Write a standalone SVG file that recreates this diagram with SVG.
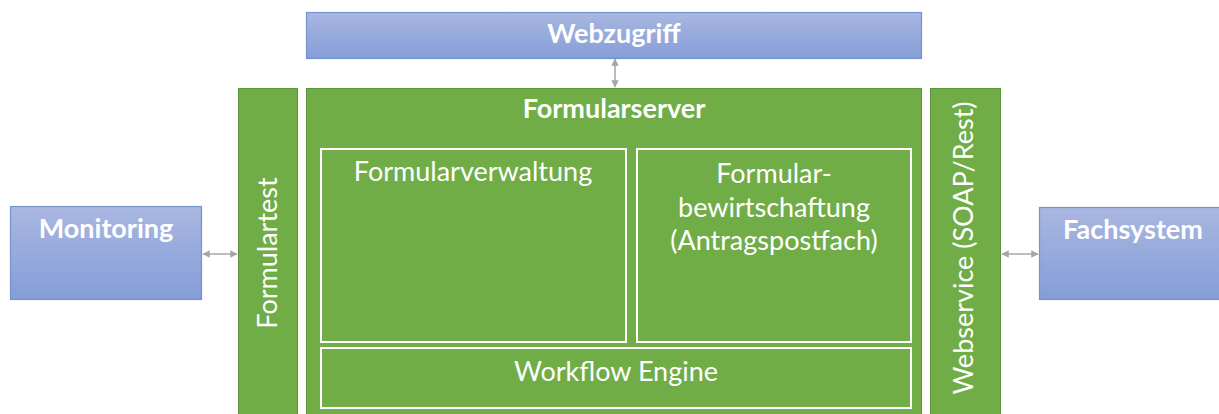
<svg xmlns="http://www.w3.org/2000/svg" width="1219" height="414" viewBox="0 0 1219 414">
  <defs>
    <linearGradient id="blueFill" x1="0" y1="0" x2="0" y2="1">
      <stop offset="0" stop-color="#a9b7e1"/>
      <stop offset="1" stop-color="#859dd7"/>
    </linearGradient>
    <marker id="head" viewBox="0 0 10 10" refX="9" refY="5" markerWidth="5" markerHeight="5" orient="auto-start-reverse">
      <path d="M0,0 L10,5 L0,10 z" fill="#a6a6a6"/>
    </marker>
    <style>
      .ext { fill: url(#blueFill); stroke: #7393d3; stroke-width: 1.2; }
      .green { fill: #70ad47; stroke: #5e9438; stroke-width: 1; }
      .inner { fill: none; stroke: #ffffff; stroke-width: 2; }
      .lbl { font-family: Lato, "Open Sans", sans-serif; fill: #ffffff; text-anchor: middle; }
      .bold { font-weight: bold; font-size: 27px; }
      .reg { font-size: 27px; }
      .conn { stroke: #a6a6a6; stroke-width: 1.5; fill: none; marker-start: url(#head); marker-end: url(#head); }
    </style>
  </defs>

  <rect width="1219" height="414" fill="#ffffff"/>

  <g id="connectors">
    <line class="conn" x1="615" y1="59" x2="615" y2="87"/>
    <line class="conn" x1="203" y1="254" x2="237" y2="254"/>
    <line class="conn" x1="1002" y1="254" x2="1038" y2="254"/>
  </g>

  <g id="webzugriff">
    <rect class="ext" x="306.5" y="12.5" width="615" height="46"/>
    <text class="lbl bold" x="614" y="43">Webzugriff</text>
  </g>

  <g id="monitoring">
    <rect class="ext" x="10.5" y="206.5" width="191" height="93"/>
    <text class="lbl bold" x="106" y="238">Monitoring</text>
  </g>

  <g id="fachsystem">
    <rect class="ext" x="1039.5" y="207.5" width="182" height="92"/>
    <text class="lbl bold" x="1133" y="239">Fachsystem</text>
  </g>

  <g id="formulartest">
    <rect class="green" x="238.5" y="88.5" width="59" height="330"/>
    <text class="lbl reg" transform="translate(277 253) rotate(-90)">Formulartest</text>
  </g>

  <g id="formularserver">
    <rect class="green" x="306.5" y="88.5" width="615" height="330"/>
    <text class="lbl bold" x="614" y="118">Formularserver</text>
  </g>

  <g id="formularverwaltung">
    <rect class="inner" x="321" y="149" width="305" height="193"/>
    <text class="lbl reg" x="473" y="181">Formularverwaltung</text>
  </g>

  <g id="formularbewirtschaftung">
    <rect class="inner" x="637" y="149" width="274" height="193"/>
    <text class="lbl reg" x="774" y="183">Formular-</text>
    <text class="lbl reg" x="774" y="217">bewirtschaftung</text>
    <text class="lbl reg" x="774" y="250">(Antragspostfach)</text>
  </g>

  <g id="workflow-engine">
    <rect class="inner" x="321" y="348" width="590" height="60"/>
    <text class="lbl reg" x="616" y="381">Workflow Engine</text>
  </g>

  <g id="webservice">
    <rect class="green" x="930.5" y="88.5" width="70" height="330"/>
    <text class="lbl reg" transform="translate(973 248) rotate(-90)">Webservice (SOAP/Rest)</text>
  </g>
</svg>
